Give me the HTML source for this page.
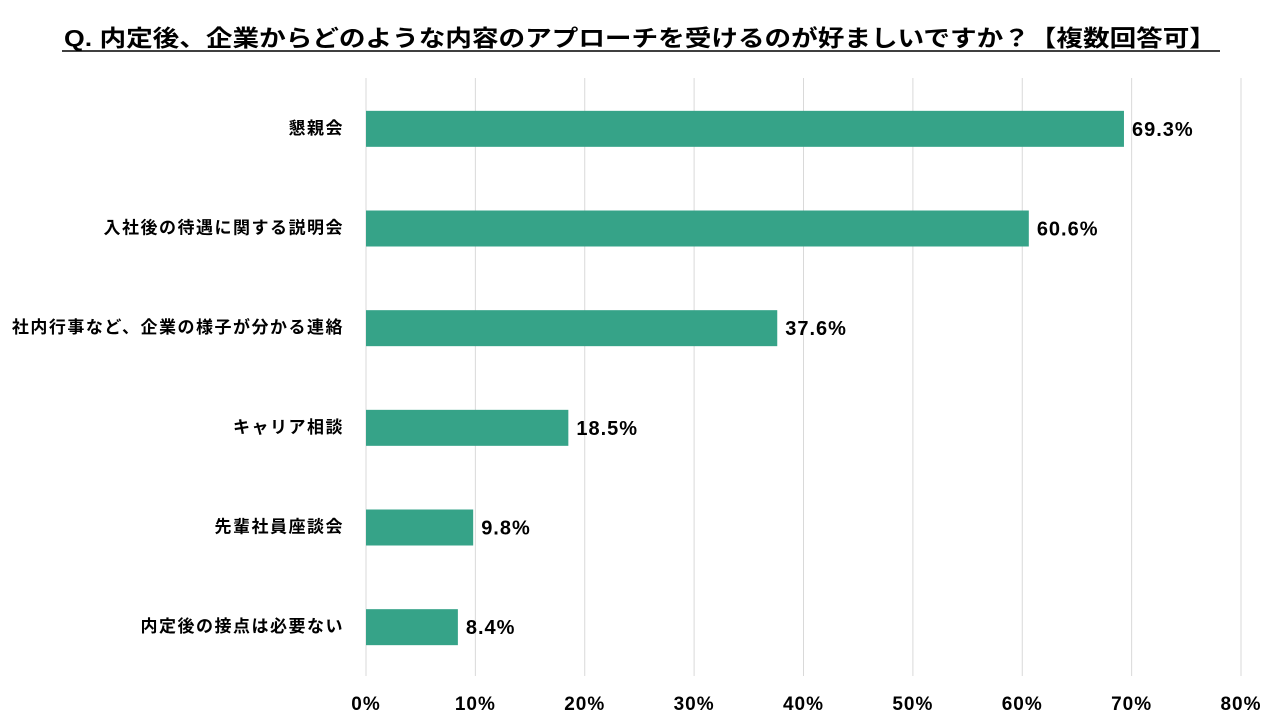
<!DOCTYPE html>
<html><head><meta charset="utf-8">
<style>
body{margin:0;width:1280px;height:720px;background:#fff;overflow:hidden;font-family:"Liberation Sans","Noto Sans CJK JP",sans-serif;}
</style></head>
<body>
<svg id="chart" width="1280" height="720" xmlns="http://www.w3.org/2000/svg">
<text x="64" y="46" font-size="23" font-weight="bold" fill="#000" textLength="1152" lengthAdjust="spacingAndGlyphs" font-family="Liberation Sans, Noto Sans CJK JP, sans-serif">Q. 内定後、企業からどのような内容のアプローチを受けるのが好ましいですか？【複数回答可】</text>
<line x1="62" y1="51" x2="1220" y2="51" stroke="#000" stroke-width="1.5"/>
<g id="grid"></g><g id="bars"></g><g id="labels"></g>
</svg>
<script>
const categories=["懇親会","入社後の待遇に関する説明会","社内行事など、企業の様子が分かる連絡","キャリア相談","先輩社員座談会","内定後の接点は必要ない"];
const values=[69.3,60.6,37.6,18.5,9.8,8.4];
const ticks=[0,10,20,30,40,50,60,70,80];
const NS='http://www.w3.org/2000/svg';
const x0=366,x1=1241,plotTop=78,plotBottom=676;
const xs=v=>x0+(v/80)*(x1-x0);
const band=(plotBottom-plotTop)/categories.length;
const yc=i=>plotTop+band*(i+0.5)+1;
const font='Liberation Sans, Noto Sans CJK JP, sans-serif';
function mk(tag,attrs,parent,text){const e=document.createElementNS(NS,tag);for(const k in attrs)e.setAttribute(k,attrs[k]);if(text!==undefined)e.textContent=text;document.getElementById(parent).appendChild(e);return e;}
ticks.forEach(t=>{
 const l=mk('line',{x1:xs(t),x2:xs(t),y1:plotTop,y2:plotBottom,stroke:'#d9d9d9','stroke-width':1},'grid');
 
 
 const tx=mk('text',{x:xs(t),y:710,'text-anchor':'middle','font-size':19,'letter-spacing':1,'font-weight':'bold','font-family':font},'labels',t+'%');
 
 
});
categories.forEach((c,i)=>{
 const h=36;
 const r=mk('rect',{x:x0,y:yc(i)-h/2,width:xs(values[i])-x0,height:h,fill:'#36A388'},'bars');
 
 
 const cl=mk('text',{x:344,y:yc(i)+5,'text-anchor':'end','font-size':17,'letter-spacing':1.5,'font-weight':'bold','font-family':font},'labels',c);
 
 
 const vl=mk('text',{x:xs(values[i])+8,y:yc(i)+7,'font-size':20,'letter-spacing':1,'font-weight':'bold','font-family':font},'labels',values[i].toFixed(1)+'%');
 
 
});
</script>
</body></html>
